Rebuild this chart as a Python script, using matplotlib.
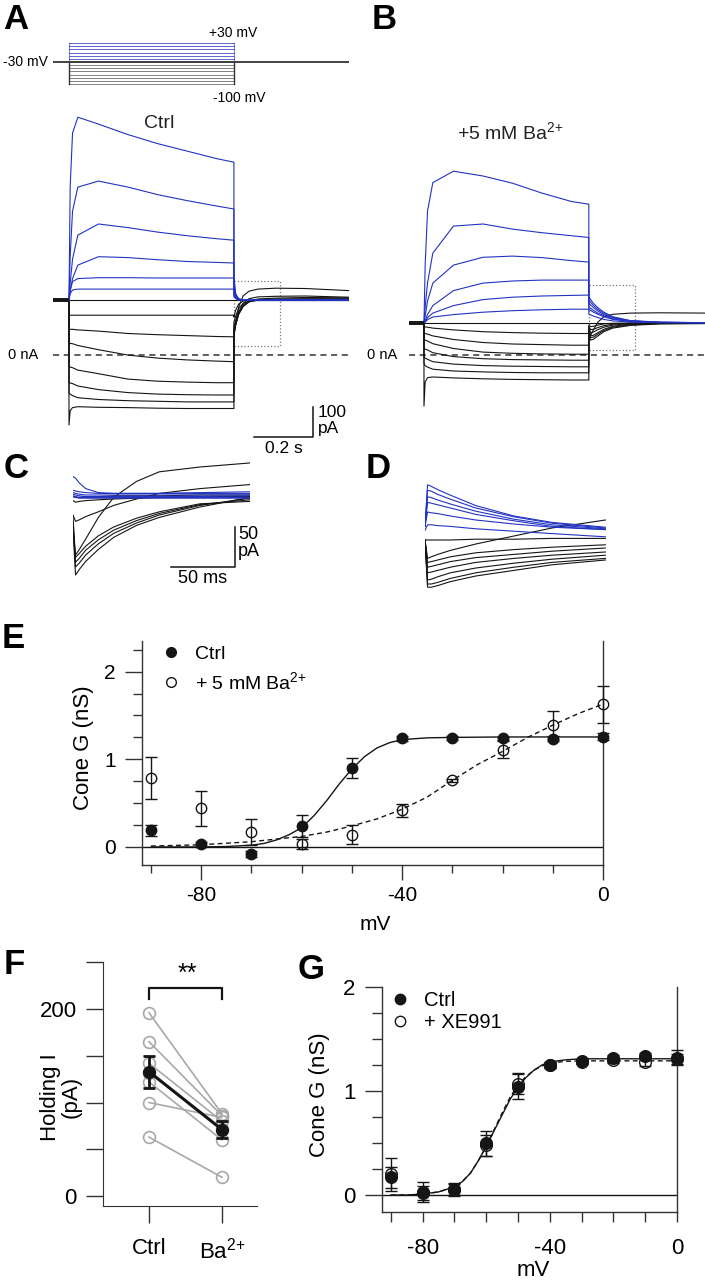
import matplotlib
matplotlib.use('Agg')
import matplotlib.pyplot as plt
from matplotlib.patches import Rectangle
from matplotlib.lines import Line2D

plt.rcParams['font.family'] = ['Liberation Sans', 'DejaVu Sans']
plt.rcParams['mathtext.fontset'] = 'custom'
plt.rcParams['mathtext.rm'] = 'Liberation Sans'
plt.rcParams['mathtext.it'] = 'Liberation Sans:italic'
plt.rcParams['mathtext.bf'] = 'Liberation Sans:bold'
plt.rcParams['axes.unicode_minus'] = False

W, H = 705, 1280
BLUE = '#2233c2'
INK = '#151515'
GREY = '#a8a8a8'
BA = r'Ba$^{2\!+}$'

# ---------------- data ----------------
# voltage protocol (mV), step length (s)
step_mv = [-100, -90, -80, -70, -60, -50, -40, -30, -20, -10, 0, 10, 20, 30]
hold_mv = -30
step_end = 0.559

# A: Ctrl currents (pA) vs time (s)
A_hold = 183
A_t_pre = [-0.054, 0.0]
A_t_step = [0, 0.004, 0.012, 0.03, 0.1, 0.2, 0.3, 0.4, 0.5, 0.559]
A_t_tail = [0.559, 0.565, 0.575, 0.59, 0.61, 0.64, 0.7, 0.8, 0.949]
A_blue_step = [
    [183, 560, 740, 793, 770, 735, 705, 680, 655, 643],
    [183, 330, 480, 560, 580, 560, 535, 515, 497, 487],
    [183, 240, 320, 400, 437, 425, 410, 398, 388, 383],
    [183, 215, 255, 300, 328, 325, 318, 312, 309, 307],
    [183, 215, 245, 255, 258, 258, 257, 257, 257, 257],
    [183, 205, 217, 220, 220, 220, 220, 220, 220, 220],
]
A_blue_tail = [
    [260, 205, 188, 184, 183, 183, 184, 184, 184],
    [240, 200, 187, 184, 183, 183, 183, 184, 184],
    [225, 196, 186, 184, 183, 183, 183, 183, 183],
    [210, 192, 185, 183, 182, 182, 183, 183, 183],
    [200, 190, 185, 183, 182, 182, 182, 182, 182],
    [195, 188, 184, 183, 182, 182, 182, 182, 182],
]
A_black_step = [
    [183, 183, 183, 183, 183, 183, 183, 183, 183, 183],
    [133, 133, 133, 133, 133, 133, 133, 133, 133, 133],
    [86, 86, 86, 84, 80, 72, 68, 65, 62, 61],
    [39, 39, 38, 32, 18, 0, -10, -16, -20, -22],
    [-39, -40, -42, -50, -62, -80, -87, -90, -92, -92],
    [-92, -93, -95, -103, -115, -125, -130, -132, -133, -133],
    [-128, -130, -135, -142, -148, -152, -154, -156, -156, -156],
    [-233, -185, -175, -172, -174, -175, -177, -178, -178, -178],
]
A_black_tail = [
    [183, 183, 183, 183, 183, 183, 183, 183, 183],
    [127, 150, 170, 180, 183, 184, 184, 184, 184],
    [110, 130, 155, 172, 180, 183, 184, 185, 185],
    [95, 115, 145, 167, 178, 183, 185, 186, 186],
    [83, 105, 138, 162, 177, 184, 187, 188, 188],
    [72, 100, 135, 162, 179, 187, 190, 192, 191],
    [65, 100, 140, 172, 188, 194, 196, 197, 193],
    [60, 110, 160, 197, 213, 220, 223, 222, 215],
]

# B: + 5 mM Ba2+ currents (pA) vs time (s)
B_hold = 107
B_t_pre = [-0.051, 0.0]
B_t_step = [0, 0.004, 0.012, 0.03, 0.1, 0.2, 0.3, 0.4, 0.5, 0.559]
B_t_tail = [0.559, 0.565, 0.575, 0.59, 0.61, 0.64, 0.7, 0.8, 0.953]
B_blue_step = [
    [107, 300, 480, 575, 613, 597, 573, 540, 512, 503],
    [107, 160, 240, 340, 430, 437, 420, 408, 398, 392],
    [107, 130, 180, 240, 300, 326, 330, 325, 315, 310],
    [107, 115, 135, 165, 215, 240, 247, 250, 250, 250],
    [107, 110, 125, 140, 165, 185, 193, 197, 199, 200],
    [107, 110, 118, 127, 135, 143, 148, 151, 153, 153],
]
B_blue_tail = [
    [194, 185, 172, 158, 143, 128, 115, 110, 108],
    [183, 176, 165, 152, 139, 126, 114, 109, 108],
    [173, 167, 158, 147, 135, 124, 114, 109, 108],
    [161, 156, 149, 140, 131, 121, 113, 109, 108],
    [153, 149, 143, 136, 128, 119, 112, 109, 108],
    [137, 134, 130, 125, 119, 114, 110, 108, 108],
]
B_black_step = [
    [107, 107, 107, 107, 107, 107, 107, 107, 107, 107],
    [94, 94, 93, 90, 84, 78, 75, 73, 72, 72],
    [72, 72, 70, 64, 52, 42, 37, 35, 33, 33],
    [50, 50, 47, 38, 22, 10, 6, 4, 3, 3],
    [22, 20, 17, 8, -5, -12, -15, -16, -17, -17],
    [-6, -10, -14, -22, -30, -35, -37, -38, -39, -39],
    [-27, -35, -40, -47, -53, -56, -58, -59, -59, -59],
    [-170, -90, -75, -73, -76, -79, -81, -82, -83, -83],
]
B_black_tail = [
    [107, 107, 107, 107, 107, 107, 107, 107, 107],
    [100, 95, 96, 100, 104, 106, 107, 107, 107],
    [95, 85, 86, 92, 98, 103, 106, 107, 107],
    [90, 75, 77, 85, 93, 100, 105, 107, 107],
    [85, 64, 66, 75, 86, 96, 103, 106, 107],
    [80, 58, 60, 70, 82, 93, 101, 105, 106],
    [75, 50, 53, 64, 78, 90, 99, 104, 105],
    [80, 65, 85, 110, 128, 136, 140, 141, 140],
]

# C: Ctrl tail currents (pA) vs time (ms)
C_t = [0, 2, 5, 10, 20, 32, 50, 68, 100, 139]
C_black = [
    [139, 108, 115, 128, 155, 180, 200, 212, 218, 223],
    [158, 150, 152, 156, 162, 170, 178, 185, 191, 196],
    [140, 83, 90, 100, 115, 130, 145, 155, 168, 180],
    [145, 93, 98, 108, 122, 135, 148, 158, 170, 179],
    [150, 99, 104, 114, 127, 139, 151, 160, 171, 177],
    [155, 105, 110, 119, 132, 143, 154, 162, 172, 175],
    [176, 174, 175, 176, 177, 178, 179, 180, 181, 181],
    [181, 180, 180, 181, 181, 182, 182, 182, 183, 183],
]
C_blue = [
    [206, 204, 198, 191, 186, 185, 185, 185, 186, 187],
    [189, 188, 187, 186, 185, 185, 185, 185, 185, 185],
    [186, 185, 184, 183, 183, 183, 183, 183, 183, 183],
    [184, 183, 182, 181, 181, 181, 181, 181, 181, 182],
    [182, 181, 180, 180, 180, 180, 180, 180, 180, 180],
    [181, 180, 179, 179, 179, 179, 179, 179, 179, 179],
]

# D: Ba2+ tail currents (pA) vs time (ms)
D_t = [0, 2, 5, 10, 20, 40, 70, 100, 142]
D_blue = [
    [200, 252, 250, 246, 239, 226, 213, 205, 199],
    [200, 245, 244, 240, 234, 223, 212, 204, 198],
    [200, 237, 236, 233, 228, 219, 209, 202, 197],
    [200, 230, 229, 227, 223, 215, 207, 200, 196],
    [200, 218, 217, 216, 213, 208, 203, 199, 196],
    [195, 202, 202, 201, 200, 197, 194, 191, 187],
]
D_black = [
    [183, 183, 183, 183, 183, 184, 184, 185, 185],
    [183, 160, 162, 165, 170, 178, 188, 198, 208],
    [183, 155, 156, 158, 162, 167, 171, 174, 177],
    [183, 149, 150, 152, 156, 161, 165, 169, 173],
    [183, 142, 143, 145, 149, 155, 160, 164, 168],
    [183, 133, 134, 137, 142, 148, 154, 159, 164],
    [183, 128, 128, 130, 135, 142, 149, 155, 160],
    [183, 124, 124, 126, 131, 138, 145, 152, 158],
]

# E: conductance (nS) vs voltage (mV)
E_mv = [-90, -80, -70, -60, -50, -40, -30, -20, -10, 0]
E_ctrl = [0.19, 0.03, -0.08, 0.24, 0.90, 1.24, 1.245, 1.24, 1.235, 1.26]
E_ctrl_err = [0.065, 0.03, 0.03, 0.13, 0.11, 0.03, 0.02, 0.02, 0.03, 0.04]
E_ba = [0.79, 0.44, 0.17, 0.035, 0.14, 0.42, 0.76, 1.11, 1.39, 1.63]
E_ba_err = [0.24, 0.20, 0.145, 0.06, 0.11, 0.075, 0.02, 0.10, 0.16, 0.21]
E_fit_mv = [-90, -85, -80, -75, -70, -67.5, -65, -62.5, -60, -57.5, -55, -52.5,
            -50, -47.5, -45, -42.5, -40, -35, -30, -20, -10, 0]
E_fit_ctrl = [0.0, 0.0, 0.0, 0.005, 0.02, 0.04, 0.08, 0.14, 0.22, 0.36, 0.53, 0.72,
              0.89, 1.03, 1.13, 1.19, 1.225, 1.245, 1.25, 1.255, 1.255, 1.255]
E_fit_ba_mv = [-90, -80, -70, -60, -55, -50, -45, -40, -35, -30, -25, -20, -15, -10, -5, 0]
E_fit_ba = [0.01, 0.025, 0.06, 0.12, 0.17, 0.24, 0.32, 0.43, 0.57, 0.76, 0.94,
            1.09, 1.25, 1.39, 1.52, 1.63]

# F: holding current (pA)
F_ctrl = [196, 165, 142, 132, 122, 100, 63]
F_ba = [88, 86, 80, 72, 60, 84, 20]
F_mean = [133, 71]
F_sem = [17, 9]
F_groups = ['Ctrl', BA]

# G: conductance (nS), Ctrl vs XE991
G_mv = [-90, -80, -70, -60, -50, -40, -30, -20, -10, 0]
G_ctrl = [0.17, 0.03, 0.06, 0.50, 1.04, 1.25, 1.29, 1.32, 1.34, 1.32]
G_ctrl_err = [0.10, 0.10, 0.06, 0.12, 0.12, 0.03, 0.02, 0.03, 0.03, 0.07]
G_xe = [0.20, 0.02, 0.05, 0.48, 1.07, 1.25, 1.28, 1.30, 1.28, 1.31]
G_xe_err = [0.16, 0.07, 0.06, 0.10, 0.10, 0.03, 0.02, 0.03, 0.04, 0.05]
G_fit_mv = [-90, -85, -80, -75, -70, -67.5, -65, -62.5, -60, -57.5, -55, -52.5,
            -50, -47.5, -45, -42.5, -40, -35, -30, -20, -10, 0]
G_fit_ctrl = [0.0, 0.0, 0.01, 0.03, 0.08, 0.13, 0.21, 0.33, 0.47, 0.62, 0.77, 0.92,
              1.04, 1.13, 1.20, 1.25, 1.28, 1.30, 1.31, 1.31, 1.31, 1.31]
G_fit_xe = [0.0, 0.0, 0.01, 0.03, 0.08, 0.13, 0.21, 0.33, 0.47, 0.63, 0.79, 0.94,
            1.06, 1.14, 1.20, 1.24, 1.27, 1.285, 1.29, 1.29, 1.29, 1.29]

# ---------------- figure ----------------
fig = plt.figure(figsize=(W / 100, H / 100), dpi=100)
fig.patch.set_facecolor('white')


def add_px_axes(x0, y0, x1, y1):
    return fig.add_axes([x0 / W, 1 - y1 / H, (x1 - x0) / W, (y1 - y0) / H])


def fig_text(x, y, s, **kw):
    fig.text(x / W, 1 - y / H, s, **kw)


def draw_traces(ax, t_pre, t_step, t_tail, hold, steps, tails, color):
    for st, tl in zip(steps, tails):
        t = list(t_pre) + list(t_step) + list(t_tail)
        y = [hold, hold] + list(st) + list(tl)
        ax.plot(t, y, color=color, lw=0.8)
    # overlapping noisy holding segments look thick in the recording
    ax.plot(t_pre, [hold, hold], color=INK, lw=2.6, solid_capstyle='butt')


# panel letters
for lab, x, y in [('A', 3, 3), ('B', 372, 3), ('C', 4, 452), ('D', 366, 452),
                  ('E', 2, 622), ('F', 4, 948), ('G', 298, 953)]:
    fig_text(x, y, lab, fontsize=25, fontweight='bold', va='top', ha='left')

# protocol
axp = add_px_axes(53, 30, 349, 100)
axp.set_xlim(-0.0542, 0.949)
axp.set_ylim(-150.5, 71.5)
axp.axis('off')
axp.plot([A_t_pre[0], A_t_tail[-1]], [hold_mv, hold_mv], color='#333333', lw=1.3, zorder=3)
for v in step_mv:
    c = BLUE if v > hold_mv else '#555555'
    axp.plot([0, step_end], [v, v], color=c, lw=0.6, alpha=0.85)
axp.plot([0, 0], [min(step_mv), hold_mv], color='#333333', lw=1.0)
axp.plot([step_end, step_end], [min(step_mv), hold_mv], color='#333333', lw=1.0)
axp.plot([0, 0], [hold_mv, max(step_mv)], color=BLUE, lw=0.8, alpha=0.6)
axp.plot([step_end, step_end], [hold_mv, max(step_mv)], color=BLUE, lw=0.8, alpha=0.6)
axp.text(0.556, 62, '+30 mV', fontsize=10, ha='center', va='center')
axp.text(-0.071, -30, '-30 mV', fontsize=10, ha='right', va='center')
axp.text(0.576, -144, '-100 mV', fontsize=10, ha='center', va='center')

# A
axA = add_px_axes(53, 110, 349, 440)
axA.set_xlim(-0.0542, 0.949)
axA.set_ylim(-283, 817)
axA.axis('off')
axA.axhline(0, color='#333333', lw=1.1, ls=(0, (4, 3)))
draw_traces(axA, A_t_pre, A_t_step, A_t_tail, A_hold, A_black_step, A_black_tail, INK)
draw_traces(axA, A_t_pre, A_t_step, A_t_tail, A_hold, A_blue_step, A_blue_tail, BLUE)
axA.add_patch(Rectangle((0.559, 30), 0.156, 217, fill=False, ec='#777777', lw=0.9, ls=':'))
axA.text(0.305, 773, 'Ctrl', fontsize=14, ha='center', va='center', color='#222222')
axA.text(-0.105, 0, '0 nA', fontsize=10.5, ha='right', va='center', clip_on=False)
axA.plot([0.627, 0.827, 0.827], [-273, -273, -173], color=INK, lw=1.1, clip_on=False)
axA.text(0.844, -190, '100', fontsize=12.5, ha='left', va='center', clip_on=False)
axA.text(0.844, -245, 'pA', fontsize=12.5, ha='left', va='center', clip_on=False)
axA.text(0.727, -310, '0.2 s', fontsize=12.5, ha='center', va='center', clip_on=False)

# B
axB = add_px_axes(409, 110, 705, 440)
axB.set_xlim(-0.0508, 0.953)
axB.set_ylim(-283, 817)
axB.axis('off')
axB.axhline(0, color='#333333', lw=1.1, ls=(0, (4, 3)))
draw_traces(axB, B_t_pre, B_t_step, B_t_tail, B_hold, B_black_step, B_black_tail, INK)
draw_traces(axB, B_t_pre, B_t_step, B_t_tail, B_hold, B_blue_step, B_blue_tail, BLUE)
axB.add_patch(Rectangle((0.559, 17), 0.156, 216, fill=False, ec='#777777', lw=0.9, ls=':'))
axB.text(0.2915, 743, '+5 mM ' + BA, fontsize=14, ha='center', va='center', color='#222222')
axB.text(-0.0915, 0, '0 nA', fontsize=10.5, ha='right', va='center', clip_on=False)

# C
axC = add_px_axes(73, 455, 250, 590)
axC.set_xlim(0, 139.4)
axC.set_ylim(64.25, 233)
axC.axis('off')
for tr in C_black:
    axC.plot(C_t, tr, color=INK, lw=0.8)
for tr in C_blue:
    axC.plot(C_t, tr, color=BLUE, lw=0.8)
axC.plot([77.2, 127.2, 127.2], [93, 93, 143], color=INK, lw=1.1, clip_on=False)
axC.text(130, 134, '50', fontsize=13, ha='left', va='center', clip_on=False)
axC.text(130, 112, 'pA', fontsize=13, ha='left', va='center', clip_on=False)
axC.text(102, 79, '50 ms', fontsize=13, ha='center', va='center', clip_on=False)

# D
axD = add_px_axes(425, 470, 606, 590)
axD.set_xlim(0, 142.5)
axD.set_ylim(120.5, 270.5)
axD.axis('off')
for tr in D_black:
    axD.plot(D_t, tr, color=INK, lw=0.8)
for tr in D_blue:
    axD.plot(D_t, tr, color=BLUE, lw=0.8)


def style_iv_axes(ax, fs, xmaj_len, xmin_len, xpad, ymax):
    ax.spines['top'].set_visible(False)
    for s in ['left', 'bottom', 'right']:
        ax.spines[s].set_color('#333333')
        ax.spines[s].set_linewidth(1.0)
    ax.axhline(0, color=INK, lw=1.0, zorder=1)
    ax.set_xticks([-80, -40, 0])
    ax.set_xticklabels(['-80', '-40', '0'])
    ax.set_xticks([-90, -70, -60, -50, -30, -20, -10], minor=True)
    ax.set_yticks([0, 1, 2])
    ax.set_yticklabels(['0', '1', '2'])
    minors = [v for v in [0.25, 0.5, 0.75, 1.25, 1.5, 1.75, 2.25] if v < ymax]
    ax.set_yticks(minors, minor=True)
    ax.tick_params(axis='x', which='major', length=xmaj_len, width=1, pad=xpad,
                   labelsize=fs, color='#333333')
    ax.tick_params(axis='x', which='minor', length=xmin_len, width=1, color='#333333')
    ax.tick_params(axis='y', which='major', length=12, width=1, pad=7,
                   labelsize=fs, color='#333333')
    ax.tick_params(axis='y', which='minor', length=6.5, width=1, color='#333333')


# E
axE = add_px_axes(142, 641, 603, 865)
style_iv_axes(axE, 15, 11, 5.5, 4, 2.35)
axE.set_xlim(-91.8, 0)
axE.set_ylim(-0.206, 2.35)
axE.plot(E_fit_mv, E_fit_ctrl, color=INK, lw=1.0)
axE.plot(E_fit_ba_mv, E_fit_ba, color=INK, lw=1.0, ls=(0, (3.5, 2.5)))
axE.errorbar(E_mv, E_ctrl, yerr=E_ctrl_err, fmt='o', ms=7.5, mfc=INK, mec=INK,
             ecolor=INK, elinewidth=1, capsize=4.3, capthick=1, clip_on=False, zorder=4)
axE.errorbar(E_mv, E_ba, yerr=E_ba_err, fmt='o', ms=7.5, mfc='none', mec=INK, mew=1,
             ecolor=INK, elinewidth=1, capsize=4.3, capthick=1, clip_on=False, zorder=4)
hE = [Line2D([], [], marker='o', ls='none', ms=7, mfc=INK, mec=INK),
      Line2D([], [], marker='o', ls='none', ms=7, mfc='white', mec=INK)]
axE.legend(hE, ['Ctrl', '+ 5 mM ' + BA], loc='upper left', frameon=False,
           fontsize=14, handlelength=1.0, handletextpad=0.74, labelspacing=0.45,
           borderpad=0, borderaxespad=0,
           bbox_to_anchor=(161 / W, 1 - 645 / H), bbox_transform=fig.transFigure)
fig_text(83, 748, 'Cone G (nS)', fontsize=16, rotation=90, ha='center', va='center')
fig_text(375, 924, 'mV', fontsize=15, ha='center', va='center')

# F
axF = add_px_axes(103, 962, 257, 1206)
for s in ['top', 'right']:
    axF.spines[s].set_visible(False)
for s in ['left', 'bottom']:
    axF.spines[s].set_color('#333333')
axF.set_yticks([0, 50, 100, 150, 200, 250])
axF.set_yticklabels(['0', '', '', '', '200', ''])
axF.set_xticks([0, 1])
axF.set_xticklabels(F_groups)
axF.set_xlim(-0.63, 1.48)
axF.set_ylim(-10.7, 250.3)
axF.tick_params(axis='both', length=12, width=1, labelsize=16, color='#333333')
axF.tick_params(axis='x', pad=11)
axF.tick_params(axis='y', pad=7)
for c, b in zip(F_ctrl, F_ba):
    axF.plot([0, 1], [c, b], color=GREY, lw=1.2, marker='o', ms=8.5, mfc='none',
             mec=GREY, mew=1.2, clip_on=False)
axF.errorbar([0, 1], F_mean, yerr=F_sem, color=INK, lw=2.2, marker='o', ms=8.5,
             mfc=INK, mec=INK, elinewidth=2, capsize=4.3, capthick=2, zorder=5)
axF.plot([0, 0, 1, 1], [210.7, 222.5, 222.5, 210.7], color=INK, lw=1.6, clip_on=False)
axF.text(0.53, 238, '**', fontsize=18, ha='center', va='center')
fig_text(61, 1097, 'Holding I\n(pA)', fontsize=16, rotation=90, ha='center',
         va='center', multialignment='center', linespacing=1.0)

# G
axG = add_px_axes(382, 987, 677, 1212)
style_iv_axes(axG, 16, 7, 7, 11.5, 2.0)
axG.set_xlim(-92.8, 0)
axG.set_ylim(-0.163, 2.0)
axG.tick_params(axis='y', which='minor', length=7)
axG.plot(G_fit_mv, G_fit_xe, color=INK, lw=1.0, ls=(0, (3.5, 2.5)))
axG.plot(G_fit_mv, G_fit_ctrl, color=INK, lw=1.0)
axG.errorbar(G_mv, G_xe, yerr=G_xe_err, fmt='o', ms=8.4, mfc='none', mec=INK, mew=1,
             ecolor=INK, elinewidth=1, capsize=4.3, capthick=1, clip_on=False, zorder=4)
axG.errorbar(G_mv, G_ctrl, yerr=G_ctrl_err, fmt='o', ms=8.4, mfc=INK, mec=INK,
             ecolor=INK, elinewidth=1, capsize=4.3, capthick=1, clip_on=False, zorder=5)
hG = [Line2D([], [], marker='o', ls='none', ms=7.5, mfc=INK, mec=INK),
      Line2D([], [], marker='o', ls='none', ms=7.5, mfc='white', mec=INK)]
axG.legend(hG, ['Ctrl', '+ XE991'], loc='upper left', frameon=False,
           fontsize=14.5, handlelength=1.0, handletextpad=0.7, labelspacing=0.15,
           borderpad=0, borderaxespad=0,
           bbox_to_anchor=(390 / W, 1 - 991 / H), bbox_transform=fig.transFigure)
fig_text(320, 1095, 'Cone G (nS)', fontsize=16, rotation=90, ha='center', va='center')
fig_text(533, 1270, 'mV', fontsize=16, ha='center', va='center')

fig.savefig('out.png', dpi=100)
